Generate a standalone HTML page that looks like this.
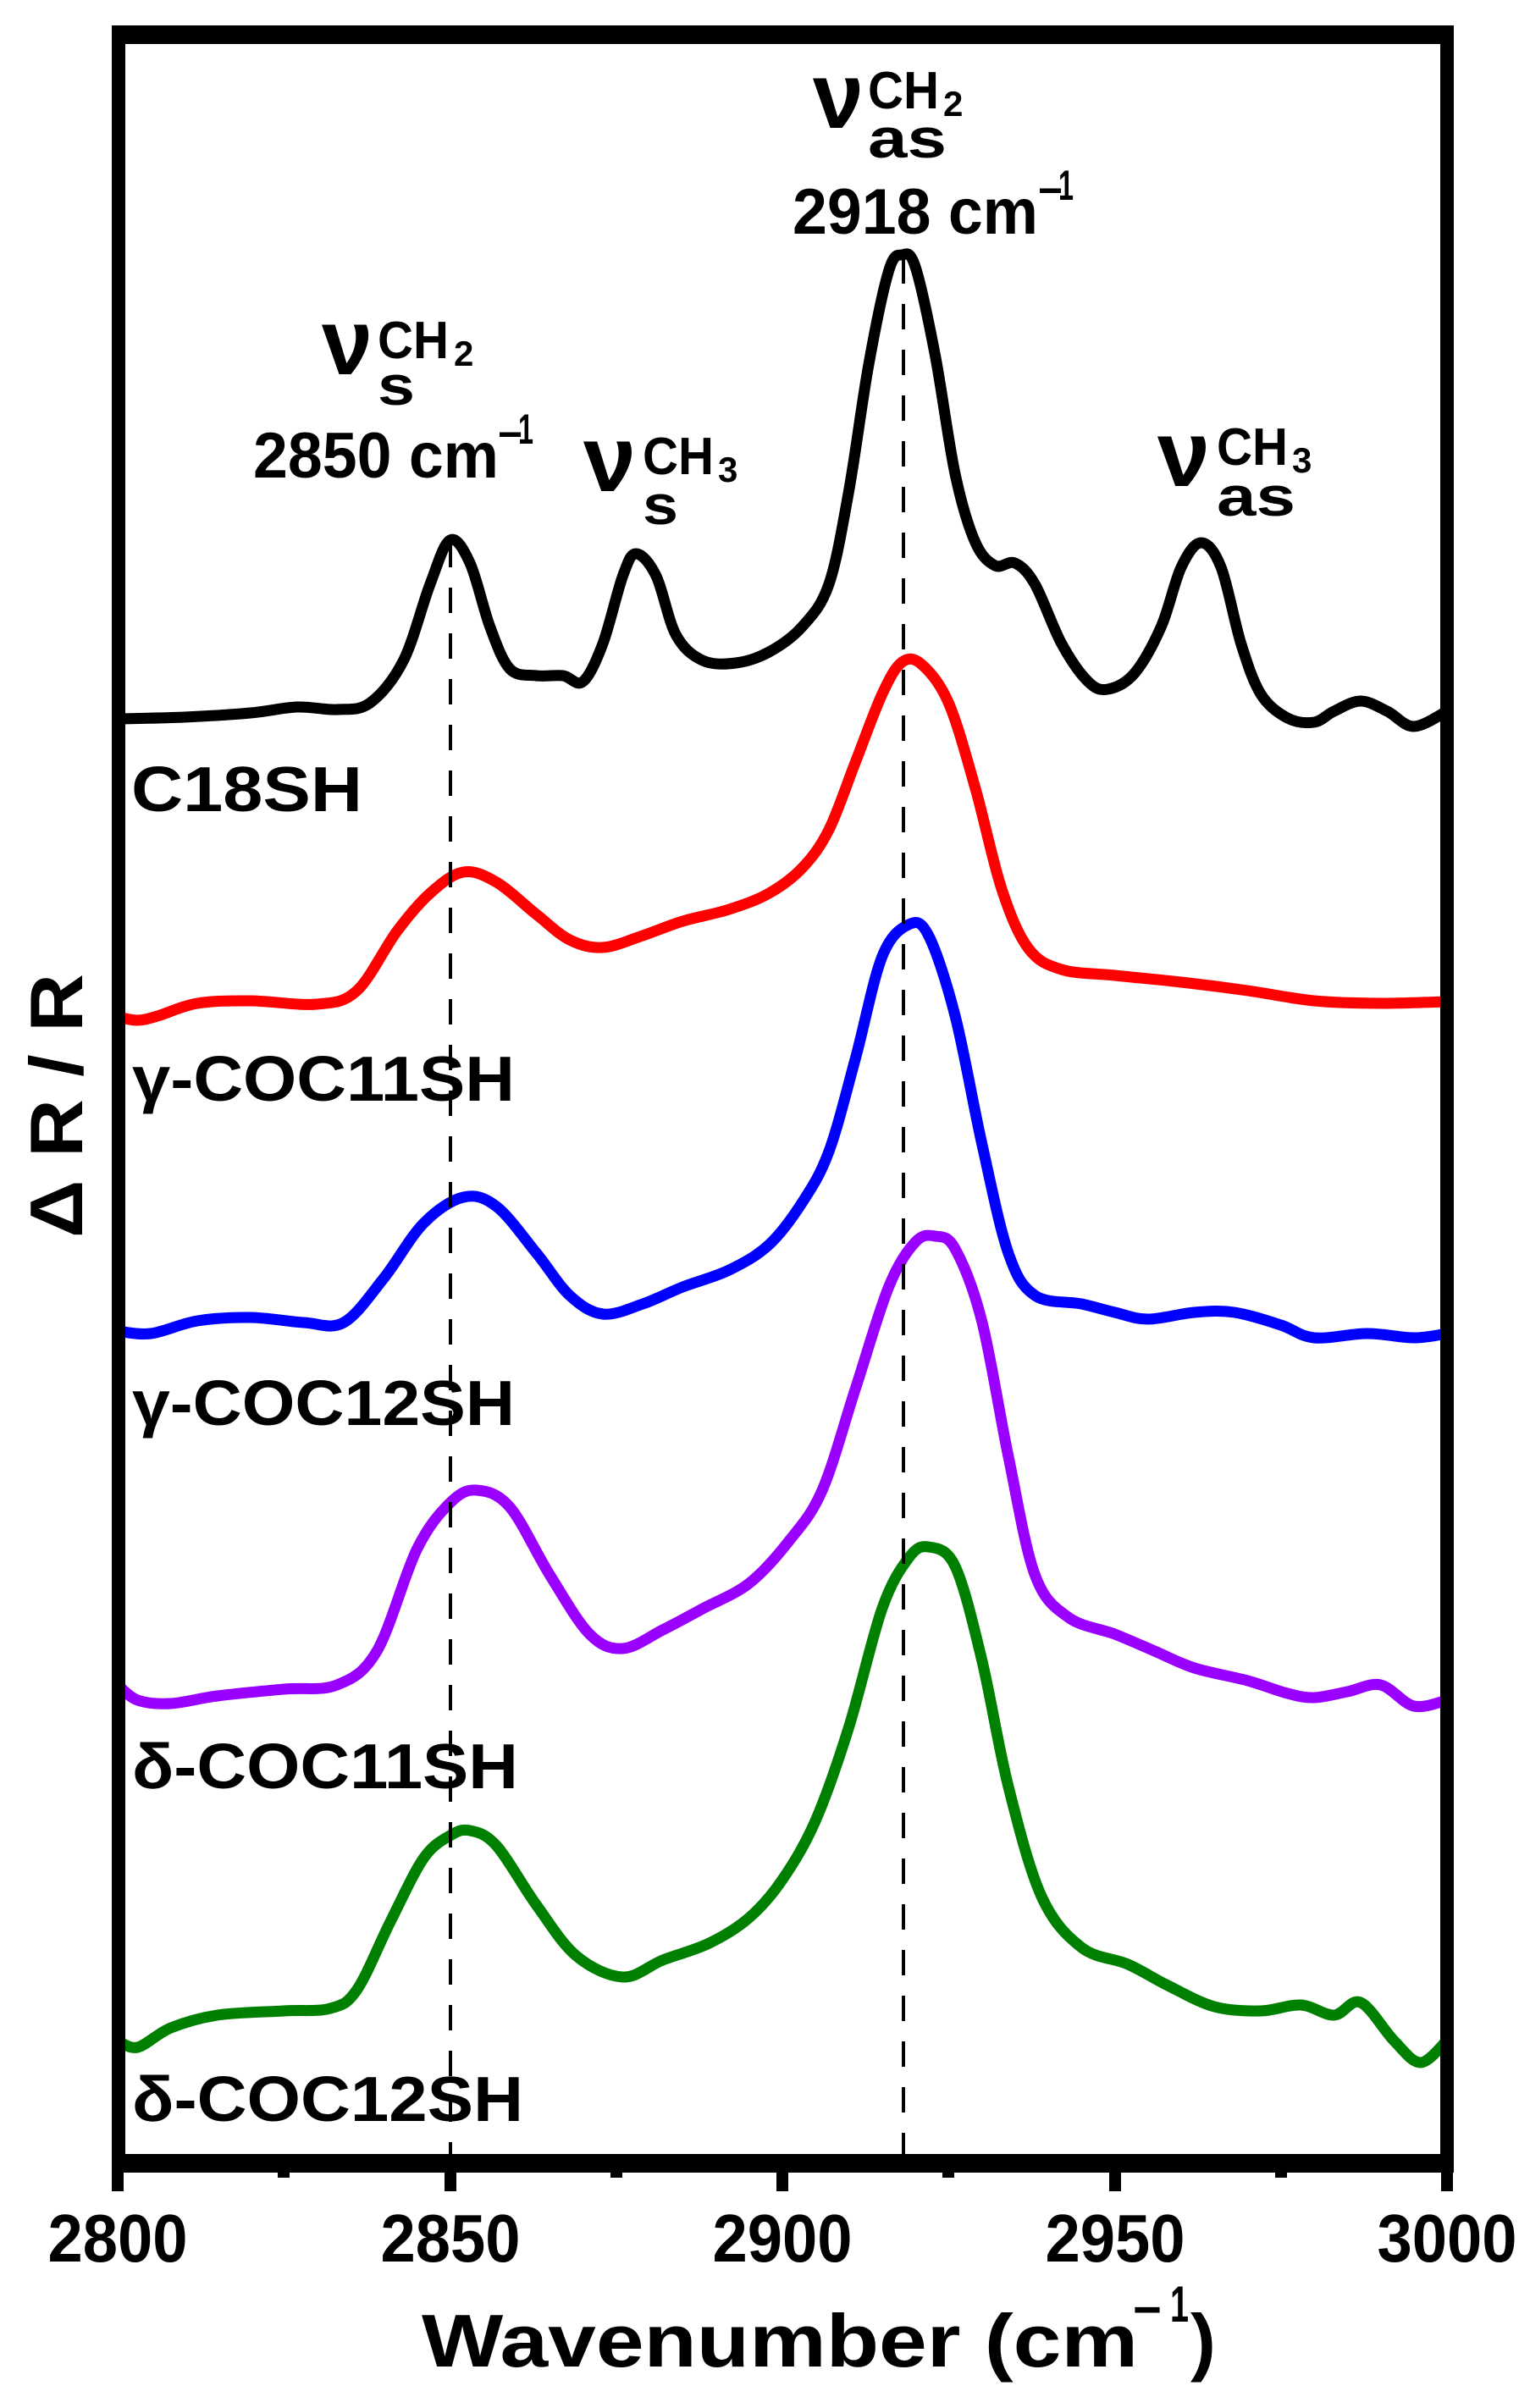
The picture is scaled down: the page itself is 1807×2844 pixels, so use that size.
<!DOCTYPE html>
<html><head><meta charset="utf-8"><style>
html,body{margin:0;padding:0;background:#fff;}
svg{display:block;}
text{font-family:"Liberation Sans",Arial,sans-serif;font-weight:bold;fill:#000;}
</style></head><body>
<svg id="s" width="1807" height="2844" viewBox="0 0 1807 2844" xmlns="http://www.w3.org/2000/svg">
<rect width="1807" height="2844" fill="#fff"/>
<g id="curves" fill="none" stroke-width="13" stroke-linejoin="round" stroke-linecap="round"></g>
<line x1="532" y1="640" x2="532" y2="2555" stroke="#000" stroke-width="4" stroke-dasharray="30,24"/>
<line x1="1067" y1="305" x2="1067" y2="2555" stroke="#000" stroke-width="4" stroke-dasharray="30,24"/>
<rect x="140" y="38" width="1569" height="2517" fill="none" stroke="#000" stroke-width="16"/>
<rect x="132" y="30" width="1585" height="22" fill="#000"/>
<rect x="132" y="2544" width="1585" height="22" fill="#000"/>
<g stroke="#000" stroke-width="14">
<line x1="139" y1="2555" x2="139" y2="2588"/>
<line x1="532" y1="2555" x2="532" y2="2588"/>
<line x1="924" y1="2555" x2="924" y2="2588"/>
<line x1="1317" y1="2555" x2="1317" y2="2588"/>
<line x1="1709" y1="2555" x2="1709" y2="2588"/>
<line x1="335" y1="2555" x2="335" y2="2572"/>
<line x1="728" y1="2555" x2="728" y2="2572"/>
<line x1="1120" y1="2555" x2="1120" y2="2572"/>
<line x1="1513" y1="2555" x2="1513" y2="2572"/>
</g>
<g font-size="80" text-anchor="middle">
<text x="139" y="2671" textLength="165" lengthAdjust="spacingAndGlyphs">2800</text>
<text x="532" y="2671" textLength="165" lengthAdjust="spacingAndGlyphs">2850</text>
<text x="924" y="2671" textLength="165" lengthAdjust="spacingAndGlyphs">2900</text>
<text x="1317" y="2671" textLength="165" lengthAdjust="spacingAndGlyphs">2950</text>
<text x="1709" y="2671" textLength="165" lengthAdjust="spacingAndGlyphs">3000</text>
</g>
<text x="498" y="2795" font-size="88" textLength="846" lengthAdjust="spacingAndGlyphs">Wavenumber (cm</text>
<text x="1338" y="2748" font-size="60" textLength="34" lengthAdjust="spacingAndGlyphs">−</text>
<text x="1382" y="2742" font-size="60" textLength="22" lengthAdjust="spacingAndGlyphs">1</text>
<text x="1406" y="2795" font-size="88" textLength="30" lengthAdjust="spacingAndGlyphs">)</text>
<text transform="translate(97,1306) rotate(-90)" font-size="88" text-anchor="middle" textLength="312" lengthAdjust="spacingAndGlyphs">Δ R / R</text>
<g font-size="75">
<text x="155" y="958" textLength="273" lengthAdjust="spacingAndGlyphs">C18SH</text>
<text x="156" y="1300" textLength="452" lengthAdjust="spacingAndGlyphs">γ-COC11SH</text>
<text x="156" y="1683" textLength="452" lengthAdjust="spacingAndGlyphs">γ-COC12SH</text>
<text x="156" y="2112" textLength="456" lengthAdjust="spacingAndGlyphs">δ-COC11SH</text>
<text x="156" y="2505" textLength="462" lengthAdjust="spacingAndGlyphs">δ-COC12SH</text>
</g>
<g>
<text x="380" y="442" font-size="110" textLength="60" lengthAdjust="spacingAndGlyphs">ν</text>
<text x="446" y="423" font-size="62" textLength="84" lengthAdjust="spacingAndGlyphs">CH</text>
<text x="536" y="432" font-size="42">2</text>
<text x="446" y="478" font-size="66" textLength="44" lengthAdjust="spacingAndGlyphs">s</text>
<text x="299" y="564" font-size="76" textLength="290" lengthAdjust="spacingAndGlyphs">2850 cm</text>
<text x="588" y="530" font-size="50">−</text>
<text x="612" y="524" font-size="50" textLength="18" lengthAdjust="spacingAndGlyphs">1</text>

<text x="689" y="580" font-size="110" textLength="62" lengthAdjust="spacingAndGlyphs">ν</text>
<text x="759" y="560" font-size="62" textLength="84" lengthAdjust="spacingAndGlyphs">CH</text>
<text x="848" y="569" font-size="42">3</text>
<text x="759" y="619" font-size="66" textLength="42" lengthAdjust="spacingAndGlyphs">s</text>

<text x="960" y="151" font-size="110" textLength="60" lengthAdjust="spacingAndGlyphs">ν</text>
<text x="1025" y="128" font-size="62" textLength="84" lengthAdjust="spacingAndGlyphs">CH</text>
<text x="1114" y="137" font-size="42">2</text>
<text x="1025" y="186" font-size="66" textLength="93" lengthAdjust="spacingAndGlyphs">as</text>
<text x="936" y="276" font-size="76" textLength="290" lengthAdjust="spacingAndGlyphs">2918 cm</text>
<text x="1226" y="242" font-size="50">−</text>
<text x="1250" y="236" font-size="50" textLength="18" lengthAdjust="spacingAndGlyphs">1</text>

<text x="1367" y="574" font-size="110" textLength="62" lengthAdjust="spacingAndGlyphs">ν</text>
<text x="1437" y="549" font-size="62" textLength="84" lengthAdjust="spacingAndGlyphs">CH</text>
<text x="1526" y="558" font-size="42">3</text>
<text x="1437" y="609" font-size="66" textLength="93" lengthAdjust="spacingAndGlyphs">as</text>
</g>
</svg>
<script>
var data={
"#000":[[2800,849],[2810,847],[2820,842],[2827,835],[2833,838],[2838,830],[2843,780],[2847,690],[2850,638],[2853,665],[2856,740],[2859,790],[2863,798],[2867,798],[2870,805],[2873,760],[2876,680],[2878,654],[2881,680],[2884,750],[2888,780],[2893,783],[2898,770],[2903,740],[2907,690],[2910,580],[2913,430],[2916,320],[2918,301],[2920,315],[2923,420],[2926,560],[2929,640],[2932,668],[2935,665],[2938,690],[2942,760],[2946,805],[2949,814],[2953,795],[2957,740],[2960,670],[2963,641],[2966,670],[2969,760],[2972,820],[2976,848],[2980,853],[2983,840],[2987,828],[2991,840],[2995,858],[3000,840]],
"#ff0000":[[2800,1201],[2803,1205],[2806,1200],[2812,1185],[2820,1182],[2830,1186],[2836,1170],[2842,1100],[2847,1055],[2852,1030],[2857,1042],[2863,1080],[2868,1110],[2873,1119],[2879,1105],[2885,1088],[2892,1074],[2898,1055],[2903,1025],[2907,980],[2911,900],[2915,820],[2918,782],[2921,785],[2925,830],[2929,930],[2933,1050],[2937,1120],[2942,1145],[2950,1152],[2960,1160],[2970,1170],[2980,1182],[2990,1185],[3000,1183]],
"#0000ff":[[2800,1572],[2805,1575],[2812,1560],[2820,1556],[2828,1562],[2834,1562],[2840,1510],[2846,1445],[2852,1414],[2857,1425],[2863,1480],[2868,1530],[2873,1552],[2879,1540],[2885,1520],[2892,1500],[2898,1470],[2903,1420],[2907,1360],[2911,1250],[2915,1130],[2919,1092],[2922,1105],[2926,1200],[2930,1350],[2934,1480],[2938,1530],[2945,1540],[2950,1550],[2955,1558],[2962,1550],[2968,1550],[2975,1565],[2980,1580],[2988,1575],[2995,1580],[3000,1575]],
"#9900ff":[[2800,1990],[2803,2008],[2808,2012],[2815,2003],[2825,1995],[2833,1990],[2839,1950],[2845,1830],[2850,1775],[2854,1760],[2859,1780],[2865,1860],[2871,1930],[2876,1947],[2882,1925],[2888,1900],[2895,1870],[2901,1820],[2906,1760],[2911,1640],[2916,1520],[2920,1467],[2923,1460],[2926,1475],[2930,1560],[2934,1720],[2938,1860],[2943,1910],[2950,1930],[2956,1950],[2962,1970],[2970,1985],[2976,2000],[2980,2005],[2985,1998],[2990,1990],[2995,2015],[3000,2008]],
"#008000":[[2800,2410],[2803,2418],[2808,2395],[2815,2380],[2825,2375],[2832,2372],[2836,2350],[2841,2270],[2846,2195],[2850,2168],[2853,2162],[2857,2180],[2863,2250],[2869,2310],[2876,2335],[2882,2315],[2889,2295],[2895,2265],[2900,2220],[2905,2150],[2910,2040],[2915,1900],[2919,1840],[2922,1827],[2926,1850],[2930,1960],[2934,2110],[2939,2240],[2945,2300],[2952,2320],[2958,2345],[2965,2370],[2972,2375],[2978,2368],[2983,2380],[2987,2365],[2992,2410],[2996,2436],[3000,2410]]
};
var g=document.getElementById('curves');
function X(w){return 139+(w-2800)*7.85;}
for(var c in data){
 var p=data[c].map(function(a){return [X(a[0]),a[1]];});
 var d='M'+p[0][0]+','+p[0][1];
 for(var i=0;i<p.length-1;i++){
  var p0=p[i-1]||p[i],p1=p[i],p2=p[i+1],p3=p[i+2]||p[i+1];
  var c1x=p1[0]+(p2[0]-p0[0])/6,c1y=p1[1]+(p2[1]-p0[1])/6;
  var c2x=p2[0]-(p3[0]-p1[0])/6,c2y=p2[1]-(p3[1]-p1[1])/6;
  d+=' C'+c1x+','+c1y+' '+c2x+','+c2y+' '+p2[0]+','+p2[1];
 }
 var el=document.createElementNS('http://www.w3.org/2000/svg','path');
 el.setAttribute('d',d);el.setAttribute('stroke',c);
 g.appendChild(el);
}
</script>
</body></html>
